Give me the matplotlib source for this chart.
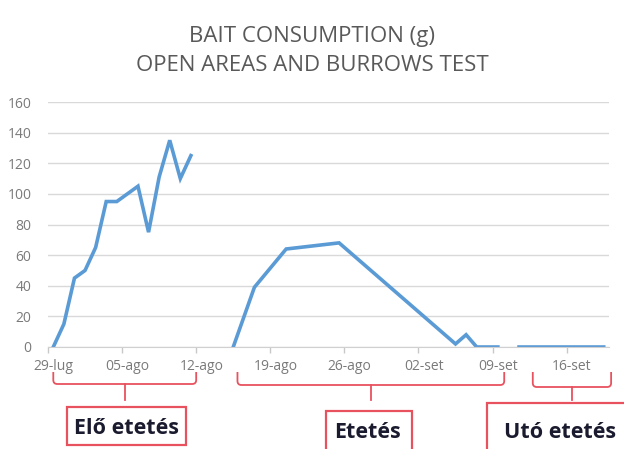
import numpy as np
import pandas as pd
import matplotlib.pyplot as plt
import matplotlib.dates as mdates
from matplotlib.path import Path
from matplotlib.patches import PathPatch, Rectangle

# dati (g di esca consumata), NaN = interruzione della linea
dates = ["2024-07-29", "2024-07-30", "2024-07-31", "2024-08-01", "2024-08-02",
         "2024-08-03", "2024-08-04", "2024-08-05", "2024-08-06", "2024-08-07",
         "2024-08-08", "2024-08-09", "2024-08-10", "2024-08-11", "2024-08-12",
         "2024-08-15", "2024-08-17", "2024-08-20", "2024-08-25", "2024-09-05",
         "2024-09-06", "2024-09-07", "2024-09-09", "2024-09-10",
         "2024-09-11", "2024-09-19"]
values = [0, 15, 45, 50, 65,
          95, 95, 100, 105, 75,
          111, 135, 110, 125, np.nan,
          0, 39, 64, 68, 2,
          8, 0, 0, np.nan,
          0, 0]

tick_dates = ["2024-07-29", "2024-08-05", "2024-08-12", "2024-08-19",
              "2024-08-26", "2024-09-02", "2024-09-09", "2024-09-16"]
tick_labels = ["29-lug", "05-ago", "12-ago", "19-ago", "26-ago", "02-set", "09-set", "16-set"]

phase_labels = ["Elő etetés", "Etetés", "Utó etetés"]

title = "BAIT CONSUMPTION (g)\nOPEN AREAS AND BURROWS TEST"

W, H = 624, 449
fig = plt.figure(figsize=(W / 100, H / 100), dpi=100)
ax = fig.add_axes([48 / W, 1 - 347 / H, (609 - 48) / W, 245 / H])

x = pd.to_datetime(dates)
ax.plot(x, values, color="#5b9bd5", lw=2.6, solid_joinstyle="miter")

start = pd.Timestamp(dates[0])
half = pd.Timedelta(hours=12)
ax.set_xlim(start - half, pd.Timestamp(dates[-1]) + half)
ax.set_ylim(0, 160)
ax.set_yticks(np.arange(0, 161, 20))

# etichette al centro del giorno, tacche al bordo
tk = pd.to_datetime(tick_dates)
ax.set_xticks(tk)
ax.set_xticklabels(tick_labels)
ax.set_xticks(tk - half, minor=True)
ax.tick_params(axis="x", which="major", length=0, pad=9, labelsize=10, labelcolor="#7a7a7a")
ax.tick_params(axis="x", which="minor", length=4, color="#c8c8c8", width=1)
ax.tick_params(axis="y", length=0, pad=12, labelsize=10, labelcolor="#7a7a7a")
for lab in ax.get_xticklabels() + ax.get_yticklabels():
    lab.set_family("Open Sans")

ax.grid(axis="y", color="#d9d9d9", lw=1)
ax.set_axisbelow(True)
for s in ["top", "right", "left"]:
    ax.spines[s].set_visible(False)
ax.spines["bottom"].set_color("#d0d0d0")

fig.text(0.5, 1 - 51 / H, title, ha="center", va="center", fontsize=16,
         color="#595959", family="Open Sans", linespacing=1.55)

# parentesi e riquadri delle fasi (coordinate in pixel)
ov = fig.add_axes([0, 0, 1, 1])
ov.set_xlim(0, W)
ov.set_ylim(H, 0)
ov.axis("off")

def day_px(d):
    t = mdates.date2num(start + pd.Timedelta(days=d))
    return ax.transData.transform((t, 0))[0]

red = "#e8525f"
brackets = [(0, 13.5, 384), (17.4, 42.6, 385), (45.3, 52.7, 387)]
boxes = [(67, 407, 186, 445), (326, 411, 412, 470), (487, 403, 660, 470)]
text_pos = [(126, 429), (368, 433), (560, 432)]
for (d0, d1, yh), (bx0, by0, bx1, by1), (tx, ty), lab in zip(brackets, boxes, text_pos, phase_labels):
    x0, x1 = day_px(d0), day_px(d1)
    r = 4
    top = 372
    verts = [(x0, top), (x0, yh - r), (x0, yh), (x0 + r, yh),
             (x1 - r, yh), (x1, yh), (x1, yh - r), (x1, top)]
    codes = [Path.MOVETO, Path.LINETO, Path.CURVE3, Path.CURVE3,
             Path.LINETO, Path.CURVE3, Path.CURVE3, Path.LINETO]
    ov.add_patch(PathPatch(Path(verts, codes), fill=False, ec=red, lw=1.3))
    xm = (x0 + x1) / 2
    ov.plot([xm, xm], [yh, 400], color=red, lw=1.3)
    ov.add_patch(Rectangle((bx0, by0), bx1 - bx0, by1 - by0, fill=True, fc="white",
                           ec=red, lw=1.6))
    ov.text(tx, ty, lab, ha="center", va="center", fontsize=15.5, fontweight="bold",
            color="#1b1b2f", family="Open Sans")

fig.savefig("out.png", dpi=100)
